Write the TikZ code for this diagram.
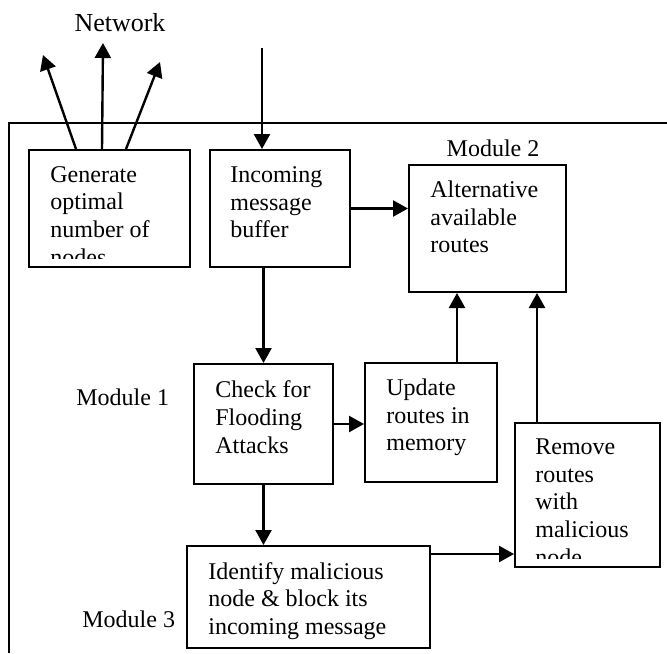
\documentclass[tikz,border=0pt]{standalone}
\usepackage{fontspec}
\setmainfont{Liberation Serif}
\usetikzlibrary{arrows.meta}
\tikzset{
  blk/.style={draw, line width=1pt, inner sep=0pt},
  txt/.style={align=left, inner sep=0pt, anchor=north west},
  lbl/.style={inner sep=0pt},
  arr/.style={-{Triangle[length=7.5pt,width=8pt]}, line width=1.2pt},
  frame/.style={line width=0.9pt}
}

\begin{document}
\begin{tikzpicture}[x=0.5pt, y=-0.5pt, font=\fontsize{12}{13.8}\selectfont]
  \useasboundingbox (0,0) rectangle (667,653);

  \draw[frame] (9,653) -- (9,123) -- (667,123);

  \node[blk, minimum width=80.5pt, minimum height=58.5pt] (gen) at (109.5,208.5) {};
  \node[blk, minimum width=70pt, minimum height=58.5pt] (inc) at (280,208.5) {};
  \node[blk, minimum width=78.5pt, minimum height=63.5pt] (alt) at (487.5,228.5) {};
  \node[blk, minimum width=69.5pt, minimum height=60pt] (chk) at (263.5,424) {};
  \node[blk, minimum width=66pt, minimum height=59.5pt] (upd) at (431,422.5) {};
  \node[blk, minimum width=72.5pt, minimum height=72pt] (rem) at (587.5,495) {};
  \node[blk, minimum width=121.5pt, minimum height=51pt] (idf) at (308.5,597) {};

  \begin{scope}
    \clip (gen.north west) rectangle ([yshift=5pt]gen.south east);
    \node[txt] (gen-t) at (50,166) {Generate\\optimal\\number of\\nodes};
  \end{scope}
  \node[txt] (inc-t) at (230,166.5) {Incoming\\message\\buffer};
  \node[txt] (alt-t) at (430,180.5) {Alternative\\available\\routes};
  \node[txt] (chk-t) at (215,380.5) {Check for\\Flooding\\Attacks};
  \node[txt] (upd-t) at (386,378.5) {Update\\routes in\\memory};
  \begin{scope}
    \clip (rem.north west) rectangle ([yshift=5pt]rem.south east);
    \node[txt] (rem-t) at (535,438.5) {Remove\\routes\\with\\malicious\\node};
  \end{scope}
  \node[txt] (idf-t) at (208,562) {Identify malicious\\node \& block its\\incoming message};

  \node[lbl, anchor=base, font=\fontsize{13}{15}\selectfont] (net) at (120,32) {Network};
  \node[lbl, anchor=base] (mod2) at (493,156) {Module 2};
  \node[lbl, anchor=base west] (mod1) at (76,405) {Module 1};
  \node[lbl, anchor=base west] (mod3) at (82,627) {Module 3};

  \coordinate (n1) at (43,55);
  \coordinate (n2) at (103,43);
  \coordinate (n3) at (160,62);
  \coordinate (feed) at (262,48);

  \draw[arr] ([xshift=24pt]gen.north west) -- (n1);
  \draw[arr] ([xshift=37pt]gen.north west) -- (n2);
  \draw[arr] ([xshift=49pt]gen.north west) -- (n3);
  \draw[arr] (feed) -- (feed |- inc.north);
  \draw[arr] (inc.east) -- (alt.west |- inc.east);
  \draw[arr] (chk.north |- inc.south) -- (chk.north);
  \draw[arr] (chk.east) -- (upd.west |- chk.east);
  \draw[arr] ([xshift=-20.5pt]upd.north east) -- ([xshift=-20.5pt]upd.north east |- alt.south);
  \draw[arr] ([xshift=11.5pt]rem.north west) -- ([xshift=11.5pt]rem.north west |- alt.south);
  \draw[arr] (chk.south) -- (chk.south |- idf.north);
  \draw[arr] ([yshift=-4.5pt]idf.north east) -- ([yshift=-4.5pt]idf.north east -| rem.west);
\end{tikzpicture}
\end{document}
